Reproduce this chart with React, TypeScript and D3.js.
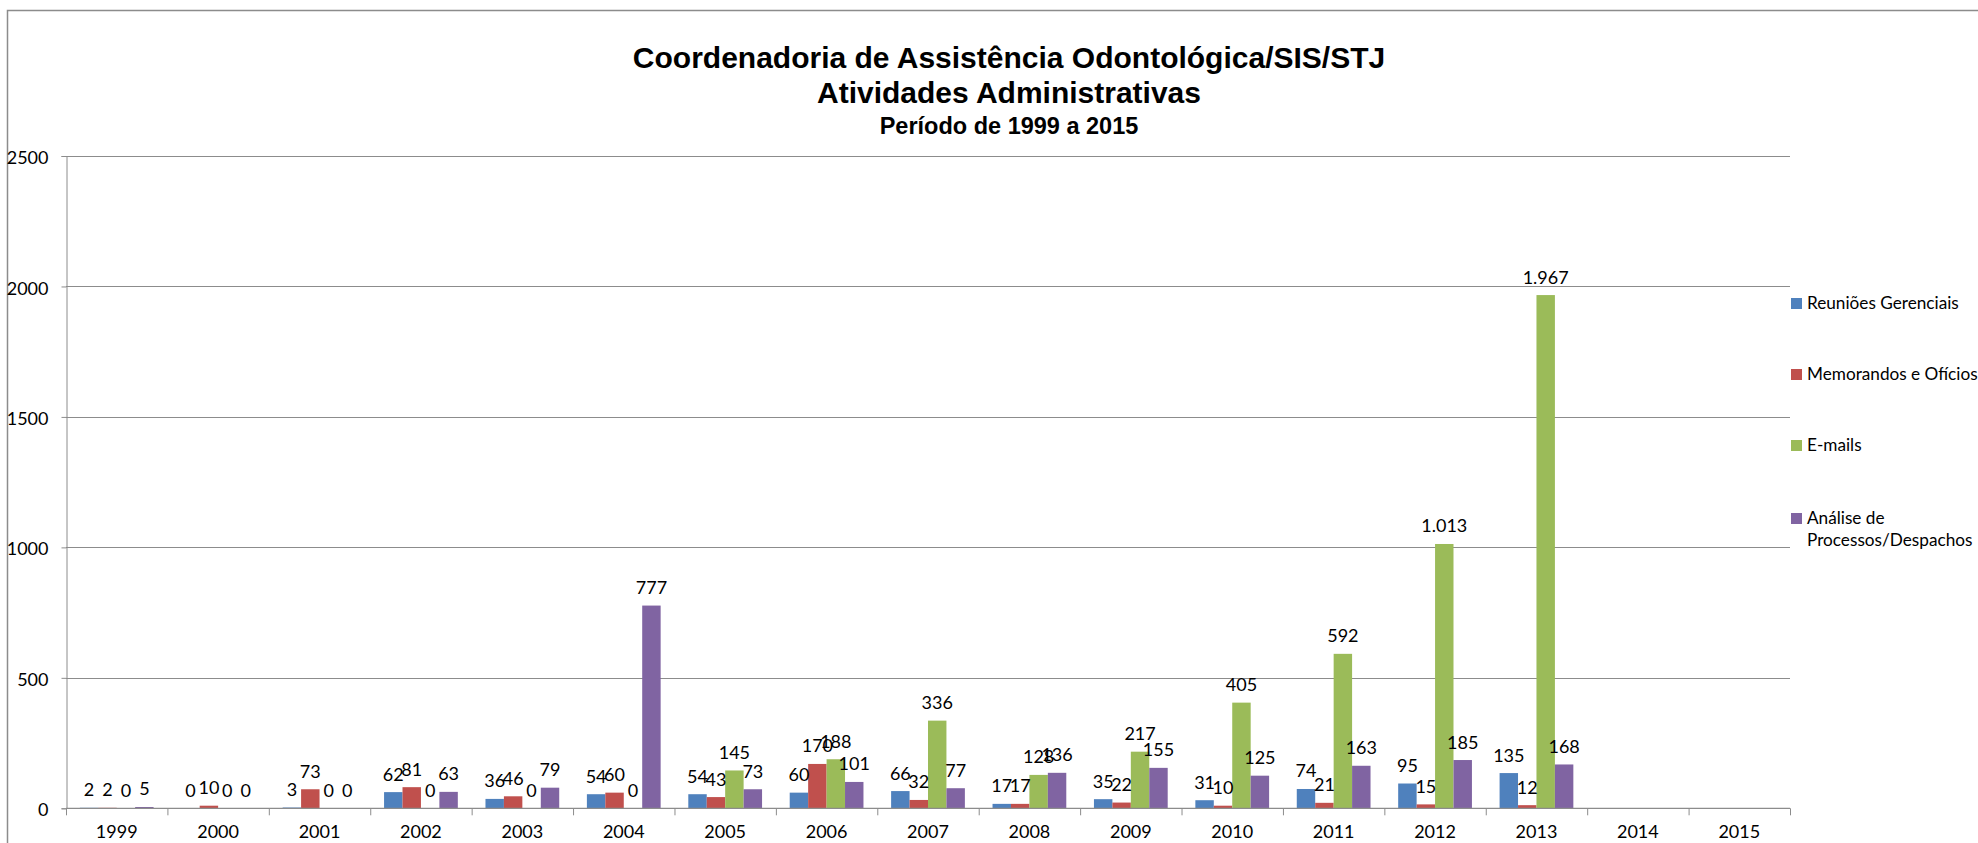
import React, { useRef, useEffect } from 'react';
import * as d3 from 'd3';

const years = ['1999', '2000', '2001', '2002', '2003', '2004', '2005', '2006', '2007', '2008', '2009', '2010', '2011', '2012', '2013', '2014', '2015'];

const reunioes = [2, 0, 3, 62, 36, 54, 54, 60, 66, 17, 35, 31, 74, 95, 135, null, null];
const memorandos = [2, 10, 73, 81, 46, 60, 43, 170, 32, 17, 22, 10, 21, 15, 12, null, null];
const emails = [0, 0, 0, 0, 0, 0, 145, 188, 336, 128, 217, 405, 592, 1013, 1967, null, null];
const analise = [5, 0, 0, 63, 79, 777, 73, 101, 77, 136, 155, 125, 163, 185, 168, null, null];

const seriesKeys = ['reunioes', 'memorandos', 'emails', 'analise'];
const seriesValues = [reunioes, memorandos, emails, analise];
const seriesColors = ['#4F81BD', '#C0504D', '#9BBB59', '#8064A2'];
const legendLabels = [['Reuniões Gerenciais'], ['Memorandos e Ofícios'], ['E-mails'], ['Análise de', 'Processos/Despachos']];

const yTicks = [0, 500, 1000, 1500, 2000, 2500];
const titleLines = ['Coordenadoria de Assistência Odontológica/SIS/STJ', 'Atividades Administrativas', 'Período de 1999 a 2015'];

const W = 1978;
const H = 843;
const labelFont = 'Lato, "Open Sans", sans-serif';

const App = () => {
  const svgRef = useRef(null);

  useEffect(() => {
    const svg = d3.select(svgRef.current);
    svg.selectAll('*').remove();

    const left = 66, right = 1790, top = 156, bottom = 808.3;

    const x0 = d3.scaleBand().domain(years).range([left, right]).paddingInner(0).paddingOuter(0);
    const x1 = d3.scaleBand().domain(seriesKeys).range([0, x0.bandwidth()]).paddingInner(0).paddingOuter(0.75);
    const y = d3.scaleLinear().domain([0, 2500]).range([bottom, top]);
    const fmt = d3.formatLocale({ decimal: ',', thousands: '.', grouping: [3], currency: ['R$', ''] }).format(',d');

    svg.attr('width', W).attr('height', H).style('background', 'white');

    // chart frame
    svg.append('rect')
      .attr('x', 7.5).attr('y', 10.5)
      .attr('width', W).attr('height', H)
      .attr('fill', 'white')
      .attr('stroke', '#8c8c8c')
      .attr('stroke-width', 1.5);

    // title
    const titleSizes = [30, 30, 23.5];
    const titleY = [68, 103, 134];
    titleLines.forEach((t, i) => {
      svg.append('text')
        .attr('x', 1009).attr('y', titleY[i])
        .attr('text-anchor', 'middle')
        .attr('font-family', '"Liberation Sans", Arial, sans-serif')
        .attr('font-weight', 'bold')
        .attr('font-size', titleSizes[i])
        .attr('fill', '#000')
        .text(t);
    });

    // gridlines
    svg.append('g')
      .selectAll('line')
      .data(yTicks.filter(d => d > 0))
      .enter()
      .append('line')
      .attr('x1', left).attr('x2', right)
      .attr('y1', d => Math.round(y(d)) + 0.5).attr('y2', d => Math.round(y(d)) + 0.5)
      .attr('stroke', '#8c8c8c').attr('stroke-width', 1);

    // y axis
    const yAxis = d3.axisLeft(y).tickValues(yTicks).tickSize(5).tickPadding(13).tickFormat(d3.format('d'));
    const gy = svg.append('g').attr('transform', `translate(${left + 0.5},0)`).call(yAxis);
    gy.select('.domain').attr('stroke', '#8c8c8c');
    gy.selectAll('.tick line').attr('stroke', '#8c8c8c');
    gy.selectAll('.tick text')
      .attr('font-family', labelFont).attr('font-size', 18).attr('fill', '#000')
      .attr('dy', '0.42em');

    // bars
    seriesKeys.forEach((key, si) => {
      const vals = seriesValues[si];
      svg.append('g')
        .selectAll('rect')
        .data(years.map((yr, i) => ({ yr, v: vals[i] })).filter(d => d.v != null))
        .enter()
        .append('rect')
        .attr('x', d => x0(d.yr) + x1(key))
        .attr('width', x1.bandwidth())
        .attr('y', d => y(d.v))
        .attr('height', d => bottom - y(d.v))
        .attr('fill', seriesColors[si]);
    });

    // x axis
    svg.append('line')
      .attr('x1', left).attr('x2', right)
      .attr('y1', bottom).attr('y2', bottom)
      .attr('stroke', '#8c8c8c').attr('stroke-width', 1.2);

    svg.append('g')
      .selectAll('line')
      .data(years.concat(['end']))
      .enter()
      .append('line')
      .attr('x1', (d, i) => (i < years.length ? x0(d) : right) + 0.5)
      .attr('x2', (d, i) => (i < years.length ? x0(d) : right) + 0.5)
      .attr('y1', bottom).attr('y2', bottom + 7)
      .attr('stroke', '#8c8c8c');

    svg.append('g')
      .selectAll('text')
      .data(years)
      .enter()
      .append('text')
      .attr('x', d => x0(d) + x0.bandwidth() / 2)
      .attr('y', 838)
      .attr('text-anchor', 'middle')
      .attr('font-family', labelFont).attr('font-size', 18).attr('fill', '#000')
      .text(d => d);

    // data labels
    seriesKeys.forEach((key, si) => {
      const vals = seriesValues[si];
      svg.append('g')
        .selectAll('text')
        .data(years.map((yr, i) => ({ yr, v: vals[i] })).filter(d => d.v != null))
        .enter()
        .append('text')
        .attr('x', d => x0(d.yr) + x1(key) + x1.bandwidth() / 2)
        .attr('y', d => y(d.v) - 11.5)
        .attr('text-anchor', 'middle')
        .attr('font-family', labelFont).attr('font-size', 18).attr('fill', '#000')
        .text(d => fmt(d.v));
    });

    // legend
    const legendY = [303, 374, 445, 518];
    legendLabels.forEach((lines, i) => {
      svg.append('rect')
        .attr('x', 1791).attr('y', legendY[i] - 5)
        .attr('width', 11).attr('height', 11)
        .attr('fill', seriesColors[i]);
      lines.forEach((ln, j) => {
        svg.append('text')
          .attr('x', 1807).attr('y', legendY[i] + 6 + j * 22)
          .attr('font-family', labelFont).attr('font-size', 17.2).attr('fill', '#000')
          .text(ln);
      });
    });
  }, []);

  return (
    <svg ref={svgRef} style={{ position: 'absolute', left: 0, top: 0, overflow: 'hidden' }}></svg>
  );
};

export default App;
